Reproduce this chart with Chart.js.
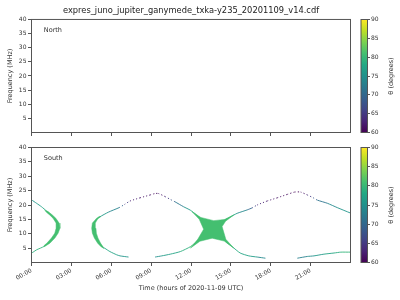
<!DOCTYPE html>
<html>
<head>
<meta charset="utf-8">
<script src="https://cdn.jsdelivr.net/npm/chart.js@4.4.1/dist/chart.umd.min.js"></script>
<style>
  html, body { margin: 0; padding: 0; background: #fff; }
  body { width: 400px; height: 300px; position: relative; overflow: hidden; }
  canvas { position: absolute; }
</style>
</head>
<body>
<canvas id="northChart" width="352" height="140" style="left:0;top:0"></canvas>
<canvas id="northBar" width="40" height="140" style="left:360px;top:0"></canvas>
<canvas id="southChart" width="352" height="160" style="left:0;top:140px"></canvas>
<canvas id="southBar" width="40" height="160" style="left:360px;top:140px"></canvas>
<script>
const titleText = 'expres_juno_jupiter_ganymede_txka-y235_20201109_v14.cdf';
const hourTicks = [0, 3, 6, 9, 12, 15, 18, 21];
const hourLabels = ['00:00', '03:00', '06:00', '09:00', '12:00', '15:00', '18:00', '21:00'];
const freqTicks = [5, 10, 15, 20, 25, 30, 35, 40];
const thetaTicks = [60, 65, 70, 75, 80, 85, 90];

// South: arc at the start of the day
const arcLeftTime = [0, 0.38, 0.75, 1.13, 1.7, 1.92, 1.95, 1.84, 1.6, 1.23, 0.95, 0.38, 0.12, 0];
const arcLeftFreq = [21.8, 20.6, 19.4, 17.9, 15.4, 13.7, 11.9, 10.2, 8.5, 6.7, 5.6, 4.4, 3.6, 3.3];
const arcLeftTheta = [75, 76, 77, 79, 81, 81, 81, 81, 81, 81, 80, 79, 79, 79];

// upper branch 04:40 -> peak 09:30 -> crossing -> low freq
const upperTime = [4.72, 4.72, 4.97, 5.15, 5.78, 6.6, 7.0, 7.42, 8.17, 8.93, 9.3, 9.55, 10.06, 10.5, 10.8, 11.44, 11.95, 12.4, 13.0, 13.58, 14.2, 14.71, 15.1, 15.7, 16.35, 16.98, 17.6];
const upperFreq = [11.9, 13.7, 15.3, 15.9, 17.5, 19.1, 20.2, 21.4, 22.5, 23.5, 24.0, 24.0, 22.9, 21.8, 21.1, 19.4, 18.2, 16.6, 14.3, 11.9, 9.0, 6.9, 5.5, 3.3, 2.3, 1.9, 1.5];
const upperTheta = [81, 81, 80, 77, 75, 72, 67, 63, 62, 61, 61, 61, 63, 67, 70, 74, 77, 80, 81, 81, 81, 80, 79, 78, 77, 76, 72];

// lower branch before the gap
const lowerTime = [4.72, 4.77, 4.9, 5.13, 5.32, 5.53, 5.9, 6.4, 6.66, 7.3];
const lowerFreq = [11.9, 10.2, 8.5, 6.7, 5.5, 4.9, 3.8, 2.7, 2.3, 1.9];
const lowerTheta = [81, 81, 81, 80, 79, 78, 78, 77, 76, 75];

// lower branch after the gap -> crossing -> peak 20:00
const riseTime = [9.3, 9.8, 10.44, 11.2, 11.95, 12.7, 13.58, 14.2, 14.97, 15.47, 16.23, 16.6, 16.98, 17.74, 18.49, 19.25, 19.8, 20.25, 20.75, 21.2, 21.5, 22.26, 23.0, 24];
const riseFreq = [1.9, 2.3, 2.9, 3.8, 5.5, 8.3, 11.9, 13.9, 15.9, 17.1, 18.3, 19.0, 20.0, 21.4, 22.5, 23.7, 24.5, 24.5, 23.5, 22.5, 21.7, 20.6, 19.1, 17.2];
const riseTheta = [74, 76, 77, 78, 80, 81, 81, 81, 78, 76, 72, 68, 64, 62, 61, 61, 60, 60, 63, 67, 70, 73, 75, 76];

// low-frequency tail at the end of the day
const tailTime = [20.0, 20.75, 21.25, 22.0, 22.76, 23.27, 24];
const tailFreq = [1.5, 2.1, 2.3, 2.9, 3.3, 3.6, 3.6];
const tailTheta = [72, 74, 75, 77, 78, 79, 80];

// dense emission regions (outline, time/freq)
const bandTheta = 81;
const bandLeftTime = [1.0, 1.25, 1.55, 1.83, 2.08, 2.14, 2.0, 1.76, 1.38, 1.0, 0.95, 1.15, 1.5, 1.75, 1.85, 1.85, 1.62, 1.35, 1.12, 1.0];
const bandLeftFreq = [18.2, 17.7, 16.6, 15.4, 13.7, 11.9, 10.2, 8.5, 6.7, 5.6, 5.9, 6.7, 8.5, 10.2, 11.9, 13.7, 15.4, 16.6, 17.5, 18.2];
const bandMidTime = [5.1, 4.9, 4.58, 4.53, 4.58, 4.73, 4.98, 5.23, 5.45, 5.38, 5.2, 5.0, 4.88, 4.85, 4.8, 4.98, 5.2, 5.1];
const bandMidFreq = [16.0, 15.4, 13.7, 11.9, 10.2, 8.5, 6.7, 5.5, 5.0, 5.5, 6.7, 8.5, 10.2, 11.9, 13.7, 15.2, 15.9, 16.0];
const crossTime = [12.08, 12.74, 13.71, 14.52, 15.22, 14.6, 14.34, 14.62, 15.22, 14.5, 13.59, 12.67, 11.95, 12.52, 12.95, 12.62, 12.08];
const crossFreq = [17.68, 15.67, 14.56, 14.97, 16.53, 14.35, 12.48, 8.08, 4.99, 7.45, 8.46, 7.38, 4.99, 8.15, 11.58, 15.04, 17.68];

Chart.defaults.font.family = 'DejaVu Sans';
Chart.defaults.font.size = 6;
Chart.defaults.color = '#333';
Chart.defaults.animation = false;

const viridisStops = ['#440154', '#482475', '#414487', '#355f8d', '#2a788e', '#21918c', '#22a884', '#44bf70', '#7ad151', '#bddf26', '#fde725'];

function hexRgb(h) {
    return [parseInt(h.slice(1, 3), 16), parseInt(h.slice(3, 5), 16), parseInt(h.slice(5, 7), 16)];
}

function viridis(v) {
    v = Math.min(1, Math.max(0, v));
    const p = v * (viridisStops.length - 1);
    const i = Math.min(Math.floor(p), viridisStops.length - 2);
    const k = p - i;
    const a = hexRgb(viridisStops[i]), b = hexRgb(viridisStops[i + 1]);
    const c = a.map((x, j) => Math.round(x + (b[j] - x) * k));
    return 'rgb(' + c.join(',') + ')';
}

function thetaColor(th) {
    return viridis((th - 60) / 30);
}

function curve(t, f, th) {
    const mid = ctx => (th[ctx.p0DataIndex] + th[ctx.p1DataIndex]) / 2;
    return {
        data: t.map((x, i) => ({ x: x, y: f[i] })),
        showLine: true,
        pointRadius: 0,
        borderWidth: 0.9,
        tension: 0.2,
        borderColor: thetaColor(th[0]),
        segment: {
            borderColor: ctx => thetaColor(mid(ctx)),
            borderDash: ctx => mid(ctx) < 70 ? [1.1, 2] : undefined
        }
    };
}

function band(t, f, th) {
    const c = thetaColor(th);
    return {
        data: t.map((x, i) => ({ x: x, y: f[i] })),
        showLine: true,
        pointRadius: 0,
        borderWidth: 0.5,
        borderColor: c,
        backgroundColor: c,
        fill: 'shape'
    };
}

// matplotlib-like box round the axes
const frameBox = {
    id: 'frameBox',
    afterDraw(chart) {
        const a = chart.chartArea;
        const c = chart.ctx;
        c.save();
        c.strokeStyle = '#555';
        c.lineWidth = 1;
        c.strokeRect(a.left, a.top, a.right - a.left, a.bottom - a.top);
        c.restore();
    }
};

const panelLabel = {
    id: 'panelLabel',
    afterDraw(chart, args, opts) {
        if (!opts.text) return;
        const a = chart.chartArea;
        const c = chart.ctx;
        c.save();
        c.font = '6.5px "DejaVu Sans"';
        c.fillStyle = '#333';
        c.textBaseline = 'middle';
        c.fillText(opts.text, a.left + 12.3, a.top + 10.5);
        c.restore();
    }
};

const cbarLabel = {
    id: 'cbarLabel',
    afterDraw(chart) {
        const a = chart.chartArea;
        const c = chart.ctx;
        c.save();
        c.font = '6.5px "DejaVu Sans"';
        c.fillStyle = '#333';
        c.textAlign = 'center';
        c.textBaseline = 'middle';
        c.translate(31, (a.top + a.bottom) / 2);
        c.rotate(-Math.PI / 2);
        c.fillText('θ (degrees)', 0, 0);
        c.restore();
    }
};

function xScale(showLabels) {
    return {
        type: 'linear',
        min: 0,
        max: 24,
        afterBuildTicks: s => { s.ticks = hourTicks.map(v => ({ value: v })); },
        afterFit: s => { s.height = showLabels ? 37.5 : 7.5; },
        grid: { drawOnChartArea: false, tickLength: 3.5, color: '#555' },
        border: { display: false },
        ticks: showLabels
            ? { autoSkip: false, minRotation: 30, maxRotation: 30, padding: 1, callback: v => hourLabels[hourTicks.indexOf(v)] }
            : { display: false },
        title: showLabels
            ? { display: true, text: 'Time (hours of 2020-11-09 UTC)', font: { size: 6.5 }, padding: { top: 0, bottom: 7.8 } }
            : { display: false }
    };
}

function yScale() {
    return {
        type: 'linear',
        min: 0,
        max: 40,
        afterBuildTicks: s => { s.ticks = freqTicks.map(v => ({ value: v })); },
        afterFit: s => { s.width = 31.5; },
        grid: { drawOnChartArea: false, tickLength: 3.5, color: '#555' },
        border: { display: false },
        ticks: { padding: 1.5 },
        title: { display: true, text: 'Frequency (MHz)', font: { size: 6.5 }, padding: { top: 6.6, bottom: 0 } }
    };
}

// North panel (no emission)
new Chart(document.getElementById('northChart'), {
    type: 'scatter',
    data: { datasets: [] },
    options: {
        responsive: false,
        layout: { padding: { top: 0, right: 1.5, bottom: 0, left: 0 } },
        plugins: {
            legend: { display: false },
            tooltip: { enabled: false },
            title: {
                display: true,
                text: titleText,
                fullSize: false,
                color: '#222',
                font: { size: 8.3, weight: 'normal' },
                padding: { top: 6, bottom: 3.5 }
            },
            panelLabel: { text: 'North' }
        },
        scales: { x: xScale(false), y: yScale() }
    },
    plugins: [frameBox, panelLabel]
});

// South panel
new Chart(document.getElementById('southChart'), {
    type: 'scatter',
    data: {
        datasets: [
            band(bandLeftTime, bandLeftFreq, bandTheta),
            band(bandMidTime, bandMidFreq, bandTheta),
            band(crossTime, crossFreq, bandTheta),
            curve(arcLeftTime, arcLeftFreq, arcLeftTheta),
            curve(upperTime, upperFreq, upperTheta),
            curve(lowerTime, lowerFreq, lowerTheta),
            curve(riseTime, riseFreq, riseTheta),
            curve(tailTime, tailFreq, tailTheta)
        ]
    },
    options: {
        responsive: false,
        layout: { padding: { top: 7.5, right: 1.5, bottom: 0, left: 0 } },
        plugins: {
            legend: { display: false },
            tooltip: { enabled: false },
            panelLabel: { text: 'South' }
        },
        scales: { x: xScale(true), y: yScale() }
    },
    plugins: [frameBox, panelLabel]
});

// colour bars
function colorBar(canvas, padTop, padBottom) {
    return new Chart(canvas, {
        type: 'bar',
        data: {
            labels: [''],
            datasets: [{
                data: [[thetaTicks[0], thetaTicks[thetaTicks.length - 1]]],
                barPercentage: 1,
                categoryPercentage: 1,
                borderWidth: 0,
                backgroundColor: ctx => {
                    const a = ctx.chart.chartArea;
                    if (!a) return viridis(0.5);
                    const g = ctx.chart.ctx.createLinearGradient(0, a.bottom, 0, a.top);
                    viridisStops.forEach((s, i) => g.addColorStop(i / (viridisStops.length - 1), s));
                    return g;
                }
            }]
        },
        options: {
            responsive: false,
            layout: { padding: { top: padTop, right: 0, bottom: padBottom, left: 1 } },
            plugins: { legend: { display: false }, tooltip: { enabled: false } },
            scales: {
                x: { display: false },
                y: {
                    position: 'right',
                    min: thetaTicks[0],
                    max: thetaTicks[thetaTicks.length - 1],
                    afterBuildTicks: s => { s.ticks = thetaTicks.map(v => ({ value: v })); },
                    afterFit: s => { s.width = 32.5; },
                    grid: { drawOnChartArea: false, tickLength: 2.5, color: '#555' },
                    border: { display: false },
                    ticks: { padding: 1 }
                }
            }
        },
        plugins: [frameBox, cbarLabel]
    });
}

colorBar(document.getElementById('northBar'), 19.5, 7.5);
colorBar(document.getElementById('southBar'), 7.5, 37.5);
</script>
</body>
</html>
